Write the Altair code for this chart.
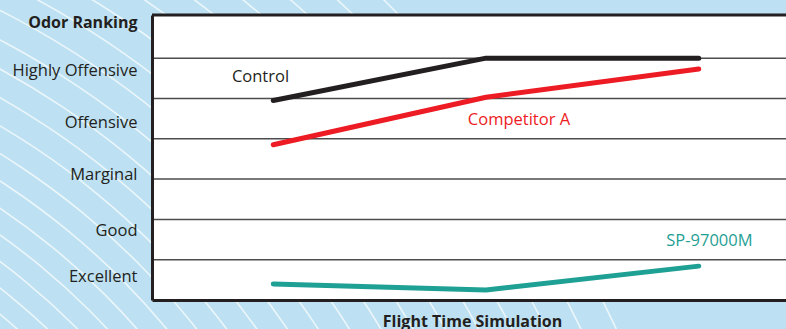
import altair as alt
import pandas as pd

# Odor scores at three flight-time checkpoints
checkpoints = [1, 2, 3]
control = [4.95, 6.0, 6.0]
competitor_a = [3.85, 5.03, 5.73]
sp_97000m = [0.40, 0.25, 0.84]
series_names = ["Control", "Competitor A", "SP-97000M"]
series_colors = ["#231f20", "#ed1c24", "#1fa094"]

# Odor ranking categories shown on the vertical axis
rank_labels = ["Excellent", "Good", "Marginal", "Offensive", "Highly Offensive"]
rank_ticks = [0.45, 1.61, 2.98, 4.28, 5.56]
grid_levels = [1, 2, 3, 4, 5, 6]

# Name tags written next to each line (score-axis units)
tag_t = [0.94, 2.155, 3.05]
tag_score = [5.42, 4.34, 1.35]

W, H = 634, 285
FONT = "Open Sans"
INK = "#231f20"

rows = []
for name, vals in zip(series_names, [control, competitor_a, sp_97000m]):
    for t, v in zip(checkpoints, vals):
        rows.append({"series": name, "t": t, "score": v})
lines_df = pd.DataFrame(rows)
tags_df = pd.DataFrame({"series": series_names, "t": tag_t, "score": tag_score})
grid_df = pd.DataFrame({"level": grid_levels})

label_expr = " : ".join(
    f"datum.value == {v} ? '{lab}'" for v, lab in zip(rank_ticks, rank_labels)
) + " : ''"

x_scale = alt.Scale(domain=[0.43, 3.41], nice=False, zero=False)
y_scale = alt.Scale(domain=[0, 7.07], nice=False, zero=False)
color_scale = alt.Scale(domain=series_names, range=series_colors)

x_axis = alt.Axis(
    values=[], ticks=False, labels=False, grid=False,
    domainColor=INK, domainWidth=3, zindex=1,
    title="Flight Time Simulation", titleFont=FONT, titleFontSize=16,
    titleFontWeight="bold", titleColor=INK, titleX=320, titleY=26,
    titleBaseline="alphabetic", titleAlign="center",
)
y_axis = alt.Axis(
    values=rank_ticks, labelExpr=label_expr, grid=False, ticks=False, tickSize=0,
    domainColor=INK, domainWidth=3, zindex=1,
    labelFont=FONT, labelFontSize=16.5, labelColor=INK, labelPadding=15,
    labelBaseline="alphabetic", labelOverlap=False,
    title="Odor Ranking", titleFont=FONT, titleFontSize=16, titleFontWeight="bold",
    titleColor=INK, titleAngle=0, titleAlign="right", titleBaseline="alphabetic",
    titleX=-15, titleY=12,
)

# Decorative white arcs on the blue backdrop, spreading out as they grow
arc_radii = []
r = 610.0
while r < 1130:
    arc_radii.append(r)
    r += 20 + (r - 610) * 0.025
arc_df = pd.DataFrame({"r": arc_radii})
arcs = alt.Chart(arc_df).transform_calculate(r2="datum.r - 1.6").mark_arc(
    color="white", opacity=0.7, theta=0, theta2=1.5708
).encode(
    x=alt.value(-552), y=alt.value(785),
    radius=alt.Radius("r:Q", scale=None),
    radius2=alt.Radius2("r2:Q"),
)

panel = alt.Chart(alt.Data(values=[{}])).mark_rect(color="white").encode(
    x=alt.value(0), x2=alt.value(W), y=alt.value(0), y2=alt.value(H)
)

grid = alt.Chart(grid_df).mark_rule(color="#4d4d4d", strokeWidth=1.5).encode(
    y=alt.Y("level:Q", scale=y_scale, axis=y_axis)
)

top_border = alt.Chart(alt.Data(values=[{}])).mark_rule(color=INK, strokeWidth=3).encode(
    x=alt.value(0), x2=alt.value(W), y=alt.value(0)
)

lines = alt.Chart(lines_df).mark_line(
    strokeWidth=5, strokeCap="round", strokeJoin="round"
).encode(
    x=alt.X("t:Q", scale=x_scale, axis=x_axis),
    y=alt.Y("score:Q", scale=y_scale, axis=y_axis),
    color=alt.Color("series:N", scale=color_scale, legend=None),
    detail="series:N",
    order="t:Q",
)

tags = alt.Chart(tags_df).mark_text(
    font=FONT, fontSize=16.5, align="center", baseline="alphabetic"
).encode(
    x=alt.X("t:Q", scale=x_scale, axis=x_axis),
    y=alt.Y("score:Q", scale=y_scale, axis=y_axis),
    text="series:N",
    color=alt.Color("series:N", scale=color_scale, legend=None),
)

chart = alt.layer(arcs, panel, grid, top_border, lines, tags).properties(
    width=W, height=H,
    autosize=alt.AutoSizeParams(type="none"),
    padding={"left": 152, "top": 15, "right": 0, "bottom": 29},
    background="#bde1f2",
).configure_view(stroke=None)

chart.save("out.html", embed_options={"renderer": "svg", "actions": False})
